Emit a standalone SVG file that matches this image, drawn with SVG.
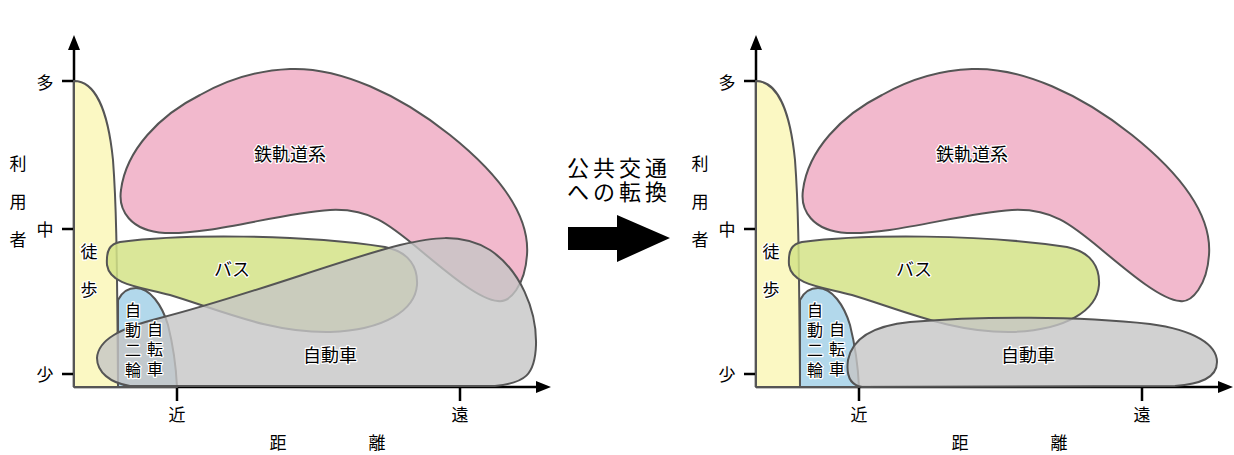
<svg xmlns="http://www.w3.org/2000/svg" xmlns:xlink="http://www.w3.org/1999/xlink" width="1234" height="455" viewBox="0 0 1234 455">
<style>
.sh{stroke:#555;stroke-width:2;stroke-linejoin:round}
.walk{fill:#fbf8c3}
.rail{fill:#f2b9cd}
.bus{fill:#d3e387;fill-opacity:0.85}
.bike{fill:#b2d8eb}
.car{fill:#c6c6c6;fill-opacity:0.8}
.ax{stroke:#000;stroke-width:2.5;fill:none}
text{font-family:"Noto Sans CJK JP","Noto Sans",sans-serif;fill:#000;text-anchor:middle;dominant-baseline:central}
.lb{font-size:17px;stroke:#fff;stroke-width:2.5;paint-order:stroke;stroke-linejoin:round}
.vs{font-size:16px}
.tk{font-size:17px}
.big{font-size:22px;letter-spacing:4px;dominant-baseline:auto}
</style>
<defs>
<path id="pWalk" d="M74 81 C95 81 108 110 113 160 C116 200 117 240 118 387 L74 387 Z"/>
<path id="pRail" d="M290 69 C340 67 400 95 450 135 C500 175 530 215 527 255 C525 285 510 303 498 301 C480 300 450 275 420 250 C390 225 370 208 330 210 C280 213 210 235 165 233 C130 231 118 210 121 190 C126 150 160 115 200 95 C230 78 260 70 290 69 Z"/>
<path id="pBus" d="M120 242 C180 234 300 234 385 247 C410 252 418 268 417 285 C415 310 385 330 330 332 C270 333 220 310 170 295 C140 287 110 285 107 265 C106 250 110 244 120 242 Z"/>
<path id="pBike" d="M118 387 L118 300 C122 292 128 288 136 288 C150 288 162 305 168 325 C173 345 176 365 177 387 Z"/>
<g id="axesDef">
<path class="ax" d="M74 387 V46 M74 387 H540 M62 81 H74 M62 229 H74 M62 374 H74 M177 387 V401 M460 387 V401"/>
<path d="M74 35 L68 50 L80 50 Z M551 387 L536 381 L536 393 Z" fill="#000"/>
<text class="tk" x="45" y="81">多</text>
<text class="tk" x="45" y="228">中</text>
<text class="tk" x="45" y="373">少</text>
<text class="tk" x="18" y="162">利</text>
<text class="tk" x="18" y="200">用</text>
<text class="tk" x="18" y="238">者</text>
<text class="tk" x="177" y="413">近</text>
<text class="tk" x="460" y="413">遠</text>
<text class="tk" x="278" y="441">距</text>
<text class="tk" x="377" y="441">離</text>
</g>
<g id="bikeText">
<text class="lb vs" x="133" y="309">自</text><text class="lb vs" x="133" y="329">動</text><text class="lb vs" x="133" y="349">二</text><text class="lb vs" x="133" y="369">輪</text>
<text class="lb vs" x="155" y="328">自</text><text class="lb vs" x="155" y="348">転</text><text class="lb vs" x="155" y="368">車</text>
</g>
</defs>

<g id="axes-left"><use xlink:href="#axesDef"/></g>
<g id="axes-right"><use xlink:href="#axesDef" transform="translate(682,0)"/></g>

<g id="walk-left"><use xlink:href="#pWalk" class="sh walk"/><text class="lb" x="89" y="250">徒</text><text class="lb" x="89" y="288">歩</text></g>
<g id="rail-left"><use xlink:href="#pRail" class="sh rail"/><text class="lb" x="290" y="153" style="font-size:18px">鉄軌道系</text></g>
<g id="bus-left"><use xlink:href="#pBus" class="sh bus"/></g>
<g id="bike-left"><use xlink:href="#pBike" class="sh bike"/></g>
<g id="car-left"><path class="sh car" d="M130 386 C110 383 97 372 97 358 C98 340 120 328 160 318 C250 295 340 260 400 245 C430 238 460 232 490 250 C520 270 537 310 536 345 C535 375 525 383 495 386 Z"/><text class="lb" x="330" y="354" style="font-size:18px">自動車</text></g>
<g id="labels-left">
<text class="lb" x="232" y="268" style="font-size:18px">バス</text>
<use xlink:href="#bikeText"/>
</g>

<g id="walk-right" transform="translate(682,0)"><use xlink:href="#pWalk" class="sh walk"/><text class="lb" x="89" y="250">徒</text><text class="lb" x="89" y="288">歩</text></g>
<g id="rail-right" transform="translate(682,0)"><use xlink:href="#pRail" class="sh rail"/><text class="lb" x="290" y="153" style="font-size:18px">鉄軌道系</text></g>
<g id="bus-right" transform="translate(682,0)"><use xlink:href="#pBus" class="sh bus"/><text class="lb" x="232" y="268" style="font-size:18px">バス</text></g>
<g id="bike-right" transform="translate(682,0)"><use xlink:href="#pBike" class="sh bike"/></g>
<g id="car-right"><path class="sh car" d="M862 387 C850 385 846 375 848 360 C852 340 870 326 910 322 C980 316 1080 316 1150 324 C1195 330 1217 345 1217 362 C1217 378 1200 384 1175 386 Z"/><text class="lb" x="1028" y="354" style="font-size:18px">自動車</text></g>
<g id="labels-right" transform="translate(682,0)">
<use xlink:href="#bikeText"/>
</g>

<g id="transition">
<text class="big" x="619" y="176">公共交通</text>
<text class="big" x="619" y="200">への転換</text>
<polygon points="568,227 617,227 617,215 670,238 617,262 617,250 568,250" fill="#000"/>
</g>
</svg>
